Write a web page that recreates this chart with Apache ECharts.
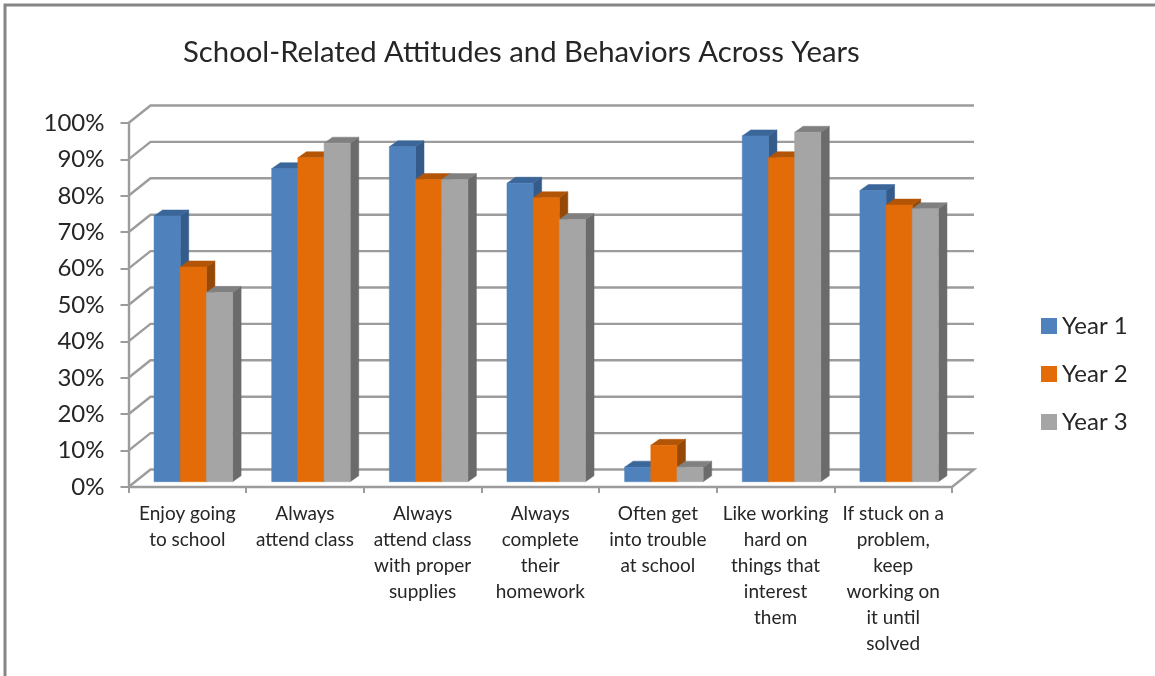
<!DOCTYPE html>
<html>
<head>
<meta charset="utf-8">
<style>html,body{margin:0;padding:0;background:#fff}#c{width:1155px;height:676px}</style>
<script src="https://cdn.jsdelivr.net/npm/echarts@6/dist/echarts.min.js"></script>
</head>
<body>
<div id="c"></div>
<script>
const titleText = 'School-Related Attitudes and Behaviors Across Years';
const categories = [
  'Enjoy going\nto school',
  'Always\nattend class',
  'Always\nattend class\nwith proper\nsupplies',
  'Always\ncomplete\ntheir\nhomework',
  'Often get\ninto trouble\nat school',
  'Like working\nhard on\nthings that\ninterest\nthem',
  'If stuck on a\nproblem,\nkeep\nworking on\nit until\nsolved'
];
const year1 = [73, 86, 92, 82, 4, 95, 80];
const year2 = [59, 89, 83, 78, 10, 89, 76];
const year3 = [52, 93, 83, 72, 4, 96, 75];
const yTicks = [0, 10, 20, 30, 40, 50, 60, 70, 80, 90, 100];

const FONT = 'Lato';
const TEXT = '#262626';
const LINE = '#9c9c9c';
const WALL = {dx: 22, dy: -17.5};
const BAR = {dx: 8.5, dy: -6, shiftX: 6, shiftY: -5.3, widthRatio: 0.2226};

function wallItem(params, api) {
  const v = api.value(0);
  const band = api.size([1, 0])[0];
  const l = api.coord([0, v]);
  const r = api.coord([categories.length - 1, v]);
  const x0 = l[0] - band / 2, x1 = r[0] + band / 2, y = l[1];
  const pts = [[x0, y], [x0 + WALL.dx, y + WALL.dy], [x1 + WALL.dx, y + WALL.dy]];
  if (v === 0) pts.push([x1, y]);
  return {type: 'polyline', shape: {points: pts},
    style: {fill: null, stroke: LINE, lineWidth: 2.4}, silent: true};
}

function barRenderer(slot, front, side, top) {
  return function (params, api) {
    const i = api.value(0);
    const t = api.coord([i, api.value(1)]);
    const b = api.coord([i, 0]);
    const w = api.size([1, 0])[0] * BAR.widthRatio;
    const x0 = t[0] + BAR.shiftX + (slot - 1.5) * w, x1 = x0 + w;
    const yt = t[1] + BAR.shiftY, yb = b[1] + BAR.shiftY;
    const dx = BAR.dx, dy = BAR.dy;
    const poly = (points, fill) => ({type: 'polygon', shape: {points},
      style: {fill, stroke: fill, lineWidth: 0.5}});
    return {type: 'group', children: [
      poly([[x1, yt], [x1 + dx, yt + dy], [x1 + dx, yb + dy], [x1, yb]], side),
      poly([[x0, yt], [x0 + dx, yt + dy], [x1 + dx, yt + dy], [x1, yt]], top),
      poly([[x0, yt], [x1, yt], [x1, yb], [x0, yb]], front)
    ]};
  };
}

function toPairs(arr) { return arr.map((v, i) => [i, v]); }

const chart = echarts.init(document.getElementById('c'), null, {renderer: 'canvas'});
chart.setOption({
  animation: false,
  backgroundColor: '#ffffff',
  color: ['#4F81BD', '#E36C09', '#A5A5A5'],
  title: {
    text: titleText, left: 178, top: 33,
    textStyle: {fontFamily: FONT, fontSize: 29.3, fontWeight: 'normal', color: TEXT}
  },
  legend: {
    data: ['Year 1', 'Year 2', 'Year 3'],
    orient: 'vertical', left: 1036, top: 309, itemWidth: 16, itemHeight: 16, itemGap: 24,
    icon: 'rect',
    textStyle: {fontFamily: FONT, fontSize: 24, color: TEXT}
  },
  grid: {left: 128.5, right: 203, top: 123, bottom: 189, containLabel: false},
  xAxis: {
    type: 'category', data: categories, boundaryGap: true,
    axisLine: {lineStyle: {color: LINE, width: 2.4}},
    axisTick: {show: true, length: 6, lineStyle: {color: LINE, width: 2}},
    axisLabel: {interval: 0, margin: 14, fontFamily: FONT, fontSize: 19, lineHeight: 26, color: TEXT},
    splitLine: {show: false}
  },
  yAxis: {
    type: 'value', min: 0, max: 100, interval: 10,
    axisLine: {show: true, lineStyle: {color: LINE, width: 2.4}},
    axisTick: {show: true, length: 8, lineStyle: {color: LINE, width: 2}},
    axisLabel: {margin: 24, fontFamily: FONT, fontSize: 24, color: TEXT, formatter: '{value}%'},
    splitLine: {show: false}
  },
  graphic: [{
    type: 'polyline', silent: true,
    shape: {points: [[5, 676], [5, 5], [1155, 5]]},
    style: {fill: null, stroke: '#868686', lineWidth: 3}
  }],
  series: [
    {type: 'custom', name: 'Wall', data: yTicks.map(v => [v]), encode: {y: 0}, renderItem: wallItem, z: 1, silent: true},
    {type: 'custom', name: 'Year 1', data: toPairs(year1), encode: {x: 0, y: 1}, z: 2,
      itemStyle: {color: '#4F81BD'}, renderItem: barRenderer(0, '#4F81BD', '#355B8A', '#3A6699')},
    {type: 'custom', name: 'Year 2', data: toPairs(year2), encode: {x: 0, y: 1}, z: 3,
      itemStyle: {color: '#E36C09'}, renderItem: barRenderer(1, '#E36C09', '#964806', '#B35507')},
    {type: 'custom', name: 'Year 3', data: toPairs(year3), encode: {x: 0, y: 1}, z: 4,
      itemStyle: {color: '#A5A5A5'}, renderItem: barRenderer(2, '#A5A5A5', '#6B6B6B', '#808080')}
  ]
});
</script>
</body>
</html>
